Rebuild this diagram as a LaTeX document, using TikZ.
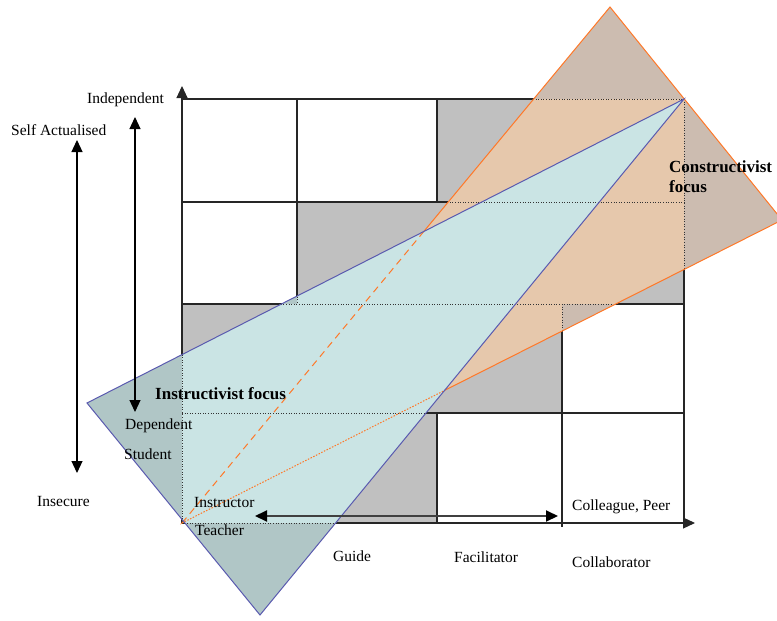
\documentclass[tikz,border=0pt]{standalone}
\usepackage{fontspec}
\setmainfont{Liberation Serif}
\usetikzlibrary{arrows.meta}

\definecolor{cellgray}{RGB}{192,192,192}
\definecolor{bluegray}{RGB}{202,228,228}
\definecolor{bluewhite}{RGB}{176,198,198}
\definecolor{orangegray}{RGB}{230,200,172}
\definecolor{orangewhite}{RGB}{204,188,176}
\definecolor{blueedge}{RGB}{90,90,175}
\definecolor{orangeedge}{RGB}{255,120,40}

\begin{document}
\begin{tikzpicture}[x=1pt,y=-1pt,
  shadecells/.style={insert path={(437,99) rectangle (684,202) (297,202) rectangle (684,304)
      (182,304) rectangle (562,413) (182,413) rectangle (437,523)}},
  cellgrid/.style={insert path={(182,99) -- (684,99) (182,202) -- (684,202)
      (182,304) -- (684,304) (182,413) -- (684,413) (182,523) -- (684,523)
      (182,300) -- (182,523) (297,99) -- (297,304) (437,99) -- (437,202)
      (437,413) -- (437,523) (562,304) -- (562,527) (684,99) -- (684,523)}},
  gridline/.style={line width=1.1pt, black!85},
  hiddenline/.style={line width=0.9pt, black!80, dash pattern=on 1pt off 1.6pt},
  tipend/.style={-{Triangle[length=12pt,width=11pt]}},
  tipboth/.style={{Triangle[length=12pt,width=11pt]}-{Triangle[length=12pt,width=11pt]}},
  txt/.style={font=\fontsize{15.5}{18}\selectfont, inner sep=0pt, anchor=west},
  focustxt/.style={font=\fontsize{17}{20}\selectfont\bfseries, inner sep=0pt, anchor=west, align=left}]

\useasboundingbox (0,0) rectangle (777,621);
\clip (0,0) rectangle (777,621);

% triangle corners
\coordinate (oA) at (182,523);
\coordinate (oB) at (610,7);
\coordinate (oC) at (782,220);
\coordinate (bL) at (87,403);
\coordinate (bT) at (684,99);
\coordinate (bB) at (260,615);

% staircase of shaded cells and the grid
\fill[cellgray, shadecells];
\draw[gridline, cellgrid];
\coordinate (origin) at (182,523);
\coordinate (ytip) at (182,86);
\coordinate (xtip) at (695,523);
\draw[gridline, tipend] (origin) -- (ytip);
\draw[gridline, tipend] (origin) -- (xtip);

% constructivist triangle
\fill[orangewhite] (oA) -- (oB) -- (oC) -- cycle;
\begin{scope}
  \clip (oA) -- (oB) -- (oC) -- cycle;
  \fill[orangegray, shadecells];
  \draw[hiddenline, cellgrid];
\end{scope}
\draw[orangeedge, line width=1pt] (oA) -- (oB) -- (oC) -- cycle;

% instructivist triangle
\fill[bluewhite] (bL) -- (bT) -- (bB) -- cycle;
\begin{scope}
  \clip (bL) -- (bT) -- (bB) -- cycle;
  \fill[bluegray, shadecells];
  \draw[hiddenline, cellgrid];
  \draw[orangeedge, line width=1pt, dash pattern=on 7pt off 5pt] (oA) -- (oB);
  \draw[orangeedge, line width=1pt, dash pattern=on 1.5pt off 1.5pt] (oA) -- (oC);
\end{scope}
\draw[blueedge, line width=1pt] (bL) -- (bT) -- (bB) -- cycle;

% scales
\coordinate (sa) at (77,140);
\coordinate (in) at (77,473);
\coordinate (ind) at (135,117);
\coordinate (dep) at (135,412);
\coordinate (tch) at (255,516);
\coordinate (col) at (558,516);
\draw[line width=1.2pt, tipboth] (sa) -- (in);
\draw[line width=1.2pt, tipboth] (ind) -- (dep);
\draw[line width=2pt, black!75, tipboth, arrows={[black]}] (tch) -- (col);

% labels
\node[txt] (tIndependent) at (87,100) {Independent};
\node[txt] (tSelf) at (11,130) {Self Actualised};
\node[txt] (tDependent) at (125,426) {Dependent};
\node[txt] (tStudent) at (124,454) {Student};
\node[txt] (tInsecure) at (37,501) {Insecure};
\node[txt] (tInstructor) at (194,502) {Instructor};
\node[txt] (tTeacher) at (195,530) {Teacher};
\node[txt] (tGuide) at (333,556) {Guide};
\node[txt] (tFacilitator) at (454,557) {Facilitator};
\node[txt] (tCollaborator) at (572,562) {Collaborator};
\node[txt] (tPeer) at (572,507) {Colleague, Peer};
\node[focustxt] (tInstr) at (155,394) {Instructivist focus};
\node[focustxt] (tConstr) at (669,177) {Constructivist\\focus};
\end{tikzpicture}
\end{document}
